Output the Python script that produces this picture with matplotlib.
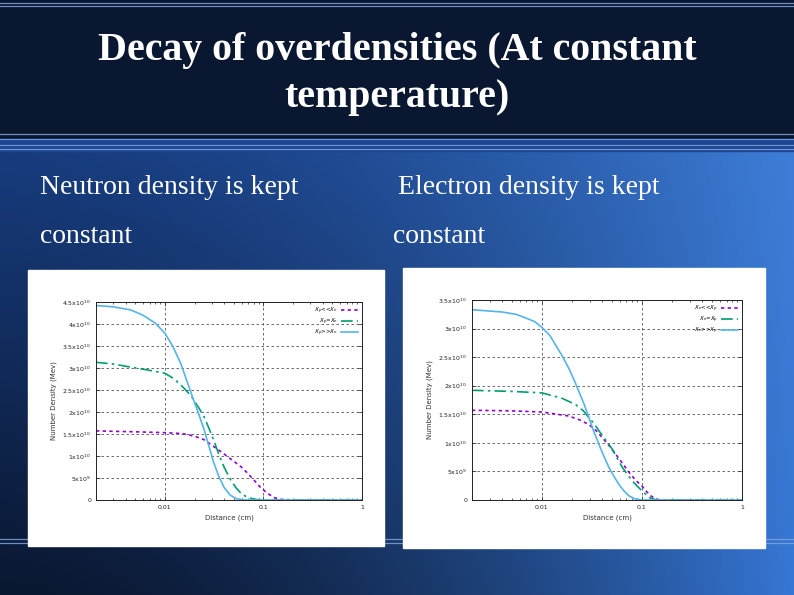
import matplotlib
matplotlib.use("Agg")
import matplotlib.pyplot as plt
import numpy as np
from matplotlib.patches import Rectangle
from matplotlib.ticker import FixedLocator, NullFormatter, LogLocator

# slide texts
titre = "Decay of overdensities (At constant\ntemperature)"
sous_titre_g = ["Neutron density is kept", "constant"]
sous_titre_d = ["Electron density is kept", "constant"]

# left panel (neutron density kept constant), densities in units of 1e10
xg_violet = [0.002, 0.005, 0.01, 0.015, 0.02, 0.025, 0.0315, 0.037, 0.043, 0.05, 0.059,
             0.069, 0.08, 0.093, 0.11, 0.13, 0.15, 0.2, 1]
yg_violet = [1.57, 1.55, 1.53, 1.51, 1.45, 1.37, 1.21, 1.10, 0.99, 0.88, 0.76,
             0.61, 0.455, 0.29, 0.15, 0.05, 0.015, 0, 0]
xg_vert = [0.002, 0.003, 0.0045, 0.0065, 0.01, 0.0125, 0.0155, 0.0185, 0.022, 0.025, 0.028,
           0.0315, 0.035, 0.04, 0.0465, 0.053, 0.06, 0.07, 0.085, 0.12, 1]
yg_vert = [3.13, 3.09, 3.02, 2.96, 2.88, 2.75, 2.55, 2.36, 2.10, 1.89, 1.63,
           1.34, 1.06, 0.74, 0.455, 0.27, 0.14, 0.05, 0.01, 0, 0]
xg_cyan = [0.002, 0.003, 0.0045, 0.006, 0.008, 0.01, 0.012, 0.0145, 0.017, 0.0195, 0.022,
           0.025, 0.028, 0.031, 0.035, 0.04, 0.046, 0.053, 0.065, 0.1, 1]
yg_cyan = [4.42, 4.39, 4.32, 4.20, 4.02, 3.79, 3.50, 3.10, 2.66, 2.28, 1.96,
           1.60, 1.22, 0.88, 0.55, 0.28, 0.11, 0.03, 0.0, 0, 0]

# right panel (electron density kept constant)
xd_violet = [0.002, 0.005, 0.01, 0.0185, 0.024, 0.0295, 0.035, 0.0402, 0.047, 0.0547, 0.064,
             0.0745, 0.087, 0.1, 0.112, 0.123, 0.135, 0.15, 1]
yd_violet = [1.57, 1.56, 1.54, 1.47, 1.40, 1.32, 1.21, 1.09, 0.95, 0.80, 0.64,
             0.48, 0.34, 0.245, 0.14, 0.07, 0.03, 0, 0]
xd_vert = [0.002, 0.005, 0.01, 0.0159, 0.0217, 0.026, 0.0295, 0.0335, 0.0372, 0.043, 0.0507,
           0.057, 0.0639, 0.072, 0.0805, 0.09, 0.1, 0.119, 0.14, 1]
yd_vert = [1.92, 1.90, 1.875, 1.78, 1.67, 1.56, 1.44, 1.33, 1.21, 1.06, 0.885,
           0.72, 0.565, 0.44, 0.33, 0.24, 0.16, 0.04, 0, 0]
xd_cyan = [0.002, 0.004, 0.0055, 0.0068, 0.0085, 0.01, 0.012, 0.0136, 0.016, 0.0185, 0.021,
           0.0234, 0.0265, 0.0295, 0.033, 0.0372, 0.042, 0.0469, 0.053, 0.059, 0.066,
           0.0745, 0.085, 0.1, 1]
yd_cyan = [3.33, 3.29, 3.25, 3.19, 3.12, 3.02, 2.88, 2.72, 2.52, 2.31, 2.10,
           1.90, 1.67, 1.44, 1.20, 0.97, 0.75, 0.565, 0.40, 0.27, 0.16,
           0.07, 0.02, 0, 0]

legende_g = [r"$X_p$<<$X_n$", r"$X_p$=$X_n$", r"$X_p$>>$X_n$"]
legende_d = [r"$X_n$<<$X_p$", r"$X_n$=$X_p$", r"$X_n$>>$X_p$"]

yticks_g = [0, 0.5, 1, 1.5, 2, 2.5, 3, 3.5, 4, 4.5]
ylabels_g = ["0", "5x10$^{9}$", "1x10$^{10}$", "1.5x10$^{10}$", "2x10$^{10}$", "2.5x10$^{10}$",
             "3x10$^{10}$", "3.5x10$^{10}$", "4x10$^{10}$", "4.5x10$^{10}$"]
yticks_d = yticks_g[:8]
ylabels_d = ylabels_g[:8]
xticks = [0.01, 0.1, 1]
xlabels = ["0.01", "0.1", "1"]

W, H = 794, 595
fig = plt.figure(figsize=(W / 100, H / 100), dpi=100)

# fond de la diapo
fond = fig.add_axes([0, 0, 1, 1])
fond.set_xlim(0, W)
fond.set_ylim(H, 0)
fond.axis("off")
xx = np.linspace(0, 1, 200)
yy = np.linspace(0, 1, 150)
X, Y = np.meshgrid(xx, yy)
haut = np.array([0x17, 0x3c, 0x7e]) / 255
haut_d = np.array([0x3e, 0x7e, 0xd8]) / 255
bas = np.array([0x0a, 0x17, 0x30]) / 255
bas_d = np.array([0x36, 0x76, 0xd4]) / 255
t = (X ** 1.7)[..., None]
v = Y[..., None]
img = (1 - v) * ((1 - t) * haut + t * haut_d) + v * ((1 - t) * bas + t * bas_d)
fond.imshow(img, extent=[0, W, H, 150], aspect="auto", zorder=0)
fond.add_patch(Rectangle((0, 0), W, 139, color="#0a1730", zorder=1))
fond.add_patch(Rectangle((0, 139), W, 12, color="#1a4590", zorder=1))
for yl in [3, 5.5, 134, 138.5, 144.5, 148.5, 539, 543]:
    fond.axhline(yl, color="#7fa3df", lw=0.9, alpha=0.85, zorder=2)
fond.add_patch(Rectangle((28, 270), 356, 276, color="white", zorder=3))
fond.add_patch(Rectangle((403, 268), 362, 280, color="white", zorder=3))

fig.text(0.5, 1 - 74 / H, titre, ha="center", va="center", color="white",
         family="Liberation Serif", weight="bold", fontsize=28.7, linespacing=1.38)
for (x0, lignes) in [(40, sous_titre_g), (398, sous_titre_d)]:
    fig.text(x0 / W, 1 - 187 / H, lignes[0], ha="left", va="center", color="white",
             family="Liberation Serif", fontsize=20)
    fig.text((x0 - 5 if x0 > 200 else x0) / W, 1 - 237 / H, lignes[1], ha="left",
             va="center", color="white", family="Liberation Serif", fontsize=20)

couleurs = ["#9400d3", "#009e73", "#56b4e9"]
styles = [(0, (2, 2)), (0, (7, 2.5, 1.5, 2.5)), "-"]


def dessiner(rect, series, legende, yticks, ylabels, ymax, ylab):
    ax = fig.add_axes(rect)
    for (x, y), c, ls, lab in zip(series, couleurs, styles, legende):
        ax.plot(x, y, color=c, ls=ls, lw=1.2, label=lab)
    ax.set_xscale("log")
    ax.set_xlim(0.002, 1)
    ax.set_ylim(0, ymax)
    ax.xaxis.set_major_locator(FixedLocator(xticks))
    ax.set_xticklabels(xlabels)
    ax.xaxis.set_minor_locator(LogLocator(subs=np.arange(2, 10)))
    ax.xaxis.set_minor_formatter(NullFormatter())
    ax.set_yticks(yticks)
    ax.set_yticklabels(ylabels)
    ax.tick_params(which="both", direction="in", top=True, right=True,
                   labelsize=4.5, colors="#222222", width=0.5)
    ax.tick_params(which="major", length=3)
    ax.tick_params(which="minor", length=1.5)
    ax.grid(True, which="major", ls=(0, (3, 3)), color="#555555", lw=0.6)
    for s in ax.spines.values():
        s.set_linewidth(0.7)
        s.set_color("#222222")
    ax.set_xlabel("Distance (cm)", fontsize=5, labelpad=3, color="#333333")
    ax.set_ylabel(ylab, fontsize=5, labelpad=4, color="#333333")
    ax.legend(loc="upper right", fontsize=4, frameon=False, markerfirst=False,
              handlelength=3, labelspacing=0.1, borderaxespad=0.3, handletextpad=0.6)
    return ax


dessiner([96 / W, 1 - 500 / H, 266 / W, 198 / H],
         [(xg_violet, yg_violet), (xg_vert, yg_vert), (xg_cyan, yg_cyan)],
         legende_g, yticks_g, ylabels_g, 4.5, "Number Density (Mev)")
dessiner([472 / W, 1 - 500 / H, 270 / W, 200 / H],
         [(xd_violet, yd_violet), (xd_vert, yd_vert), (xd_cyan, yd_cyan)],
         legende_d, yticks_d, ylabels_d, 3.5, "Number Density (Mev)")

fig.savefig("out.png", dpi=100)
